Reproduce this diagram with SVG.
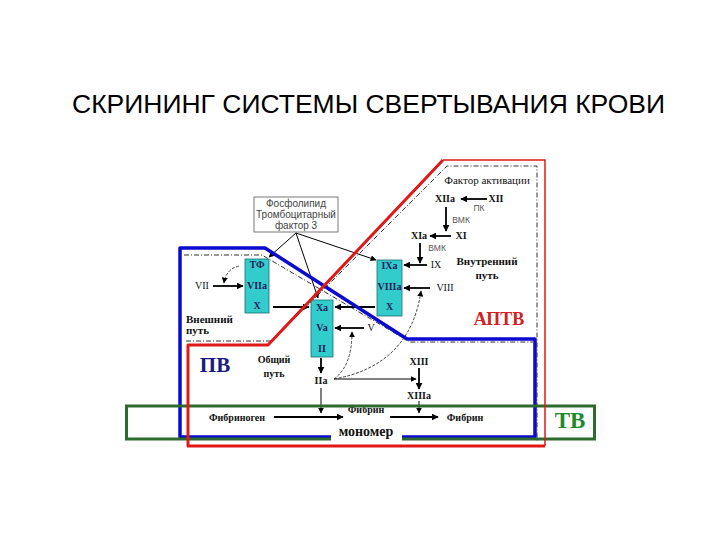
<svg xmlns="http://www.w3.org/2000/svg" width="720" height="540" viewBox="0 0 720 540">
<defs>
<marker id="ah" viewBox="0 0 10 10" refX="9" refY="5" markerWidth="7" markerHeight="7" markerUnits="userSpaceOnUse" orient="auto"><path d="M0,0 L10,5 L0,10 Z" fill="#000"/></marker>
<marker id="ahs" viewBox="0 0 10 10" refX="9" refY="5" markerWidth="6" markerHeight="6" markerUnits="userSpaceOnUse" orient="auto"><path d="M0,0 L10,5 L0,10 Z" fill="#000"/></marker>
<style>
.title{font-family:"Liberation Sans",Arial,sans-serif;font-size:26px;fill:#000}
.box{fill:#33cccc;stroke:#1a6f6f;stroke-width:0.8}
.bt{font-family:"Liberation Serif","Times New Roman",serif;font-weight:bold;font-size:10px;fill:#1c1c5a;text-anchor:middle}
.lb{font-family:"Liberation Serif","Times New Roman",serif;font-weight:bold;font-size:10px;fill:#111;text-anchor:middle}
.lr{font-family:"Liberation Serif","Times New Roman",serif;font-size:10px;fill:#111;text-anchor:middle}
.sg{font-family:"Liberation Sans",Arial,sans-serif;font-size:8.5px;fill:#555;text-anchor:middle}
.ph{font-family:"Liberation Sans",Arial,sans-serif;font-size:10px;fill:#444;text-anchor:middle}
.thick{stroke:#000;stroke-width:1.8;fill:none;marker-end:url(#ah)}
.thin{stroke:#000;stroke-width:1;fill:none;marker-end:url(#ahs)}
.curve{stroke:#333;stroke-width:0.9;fill:none;stroke-dasharray:3 1.5;marker-end:url(#ahs)}
.dd{stroke:#333;stroke-width:1;fill:none;stroke-dasharray:5 2 1 2}
</style>
</defs>
<rect width="720" height="540" fill="#fff"/>
<text class="title" x="72" y="113" textLength="593" lengthAdjust="spacingAndGlyphs">СКРИНИНГ СИСТЕМЫ СВЕРТЫВАНИЯ КРОВИ</text>

<g id="boundaries-dashed">
<path class="dd" d="M184,255 H262 L410,342 H533"/>
<path class="dd" d="M186,341 H272 L447,166 H537 V442"/>
</g>

<g id="phospholipid">
<rect x="254" y="197" width="84" height="35" fill="#fff" stroke="#555" stroke-width="0.8"/>
<text class="ph" x="296" y="207">Фосфолипид</text>
<text class="ph" x="296" y="218">Тромбоцитарный</text>
<text class="ph" x="296" y="229">фактор 3</text>
</g>

<g id="box-tf">
<rect class="box" x="245" y="259" width="24" height="54"/>
<text class="bt" x="257" y="268">ТФ</text>
<text class="bt" x="257" y="289">VIIa</text>
<text class="bt" x="257" y="309">X</text>
</g>
<g id="box-xa">
<rect class="box" x="311" y="300" width="22" height="57"/>
<text class="bt" x="322" y="311">Xa</text>
<text class="bt" x="322" y="331">Va</text>
<text class="bt" x="322" y="352">II</text>
</g>
<g id="box-ixa">
<rect class="box" x="377" y="260" width="25" height="56"/>
<text class="bt" x="389.5" y="269">IXa</text>
<text class="bt" x="389.5" y="290">VIIIa</text>
<text class="bt" x="389.5" y="310">X</text>
</g>

<g id="connectors">
<line class="thin" x1="296" y1="233" x2="269" y2="257"/>
<line class="thin" x1="296" y1="233" x2="318" y2="298"/>
<line class="thin" x1="296" y1="233" x2="376" y2="260"/>
<line class="thick" x1="213" y1="286" x2="243" y2="286"/>
<line class="thick" x1="273" y1="307" x2="309" y2="307"/>
<line class="thick" x1="375" y1="307" x2="335" y2="307"/>
<line class="thick" x1="364" y1="328" x2="335" y2="328"/>
<line class="thick" x1="427" y1="265" x2="404" y2="265"/>
<line class="thick" x1="430" y1="288" x2="404" y2="288"/>
<line class="thick" x1="487" y1="199" x2="461" y2="199"/>
<line class="thick" x1="446" y1="207" x2="446" y2="231"/>
<line class="thick" x1="451" y1="236" x2="430" y2="236"/>
<line class="thick" x1="420" y1="243" x2="420" y2="263"/>
<line class="thick" x1="321" y1="358" x2="321" y2="373"/>
<line class="thin" x1="321" y1="388" x2="321" y2="413"/>
<line class="thin" x1="334" y1="379" x2="416" y2="379"/>
<line class="thick" x1="419" y1="368" x2="419" y2="389"/>
<line class="thin" x1="419" y1="401" x2="419" y2="413"/>
<line class="thick" x1="274" y1="417" x2="343" y2="417"/>
<line class="thick" x1="390" y1="417" x2="438" y2="417"/>
<path class="curve" d="M239,266 Q226,269 224,283"/>
<path class="curve" d="M334,379 Q352,366 352,332"/>
<path class="curve" d="M334,379 C385,370 414,340 421,291"/>
</g>

<g id="labels">
<text class="lr" x="202" y="289">VII</text>
<text class="lr" x="371" y="331">V</text>
<text class="lr" x="436" y="268">IX</text>
<text class="lr" x="445" y="291">VIII</text>
<text class="lr" x="487" y="184" style="font-size:11px">Фактор активации</text>
<text class="lb" x="445" y="202">XIIa</text>
<text class="lb" x="496" y="202">XII</text>
<text class="sg" x="479" y="211">ПК</text>
<text class="sg" x="461" y="223">ВМК</text>
<text class="lb" x="419" y="239">XIa</text>
<text class="lb" x="461" y="239">XI</text>
<text class="sg" x="437" y="251">ВМК</text>
<text class="lb" x="487" y="265" style="font-size:11px">Внутренний</text>
<text class="lb" x="487" y="279" style="font-size:11px">путь</text>
<text class="lb" x="186" y="323" style="font-size:11px;text-anchor:start">Внешний</text>
<text class="lb" x="186" y="334" style="font-size:11px;text-anchor:start">путь</text>
<text class="lb" x="274" y="363">Общий</text>
<text class="lb" x="274" y="377">путь</text>
<text class="lb" x="321" y="384">IIa</text>
<text class="lb" x="419" y="365">XIII</text>
<text class="lb" x="419" y="399">XIIIa</text>
<text class="lb" x="237" y="421">Фибриноген</text>
<text class="lb" x="366" y="413">Фибрин</text>
<text class="lb" x="465" y="421">Фибрин</text>
</g>

<g id="pv-outline">
<path d="M180,248 H265 L407,339 H535 V437 H180 Z" fill="none" stroke="#0a0ad0" stroke-width="3.5" stroke-linejoin="round"/>
</g>
<g id="tv-outline">
<rect x="126.5" y="406" width="468" height="33" fill="none" stroke="#2d6a2d" stroke-width="3"/>
</g>
<g id="aptv-outline">
<path d="M545,446 H188 V345 H268 L443,160" fill="none" stroke="#e01818" stroke-width="3" stroke-linejoin="round"/>
<path d="M443,160 H545 V446" fill="none" stroke="#e01818" stroke-width="1.5"/>
</g>

<g id="monomer">
<rect x="331" y="421" width="71" height="21" fill="#fff"/>
<text class="lb" x="366" y="436" style="font-size:14px">мономер</text>
</g>

<text x="499" y="325" style="font-family:'Liberation Serif','Times New Roman',serif;font-weight:bold;font-size:18px;fill:#d42020;text-anchor:middle">АПТВ</text>
<text x="215" y="372" style="font-family:'Liberation Serif','Times New Roman',serif;font-weight:bold;font-size:21px;fill:#1a1a80;text-anchor:middle">ПВ</text>
<text x="570" y="428" style="font-family:'Liberation Serif','Times New Roman',serif;font-weight:bold;font-size:23px;fill:#1e8a2e;text-anchor:middle">ТВ</text>
</svg>
